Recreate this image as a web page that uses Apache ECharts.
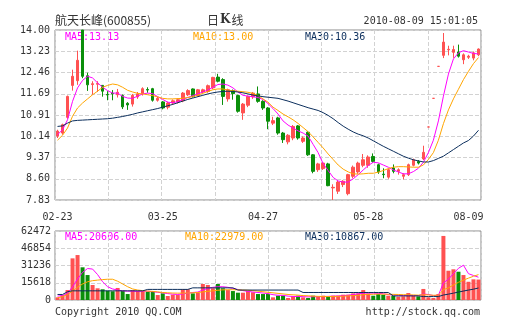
<!DOCTYPE html>
<html><head><meta charset="utf-8">
<script src="https://cdn.jsdelivr.net/npm/echarts@6/dist/echarts.min.js"></script>
<style>html,body{margin:0;padding:0;background:#fff}#c{width:505px;height:330px}</style>
</head><body><div id="c"></div>
<script>
const stockName = '航天长峰(600855)';
const timestamp = '2010-08-09 15:01:05';
const copyrightText = 'Copyright 2010 QQ.COM';
const siteText = 'http://stock.qq.com';
const xTickLabels = ['02-23', '03-25', '04-27', '05-28', '08-09'];
const xTickIndex = [0, 21, 41, 62, 82];
const priceTickLabels = ['7.83', '8.60', '9.37', '10.14', '10.91', '11.69', '12.46', '13.23', '14.00'];
const volTickLabels = ['0', '15618', '31236', '46854', '62472'];

const opens = [10.15,10.26,10.83,11.99,12.16,14.00,12.34,12.02,12.03,11.99,11.66,11.70,11.65,11.62,11.34,11.31,11.57,11.69,11.84,11.87,11.45,11.39,11.20,11.35,11.39,11.43,11.65,11.86,11.62,11.75,11.77,11.90,12.29,12.20,11.50,11.80,11.62,10.99,11.27,11.57,11.68,11.41,11.17,10.62,10.81,10.26,9.94,10.08,10.52,9.96,10.29,9.47,8.93,8.97,9.14,8.27,8.15,8.39,8.06,8.69,8.85,9.09,9.09,9.41,9.11,8.77,8.66,8.99,8.87,8.69,8.75,9.09,9.23,9.32,10.48,11.52,12.68,13.08,13.28,13.19,13.20,12.92,13.01,12.98,13.10];
const closes = [10.33,10.56,11.59,12.32,12.90,12.32,12.01,12.05,12.06,11.78,11.64,11.68,11.74,11.21,11.28,11.63,11.68,11.87,11.82,11.45,11.52,11.17,11.35,11.43,11.47,11.71,11.80,11.59,11.83,11.83,11.98,12.28,12.14,11.59,11.83,11.69,11.05,11.31,11.59,11.71,11.41,11.17,10.69,10.71,10.26,10.02,10.18,10.50,10.08,10.08,9.47,8.87,9.14,9.17,8.35,8.29,8.48,8.51,8.75,9.02,9.17,9.29,9.39,9.23,8.85,8.75,8.93,8.87,8.93,8.75,9.11,9.29,9.17,9.56,10.48,11.52,12.68,13.56,13.30,13.29,13.05,13.10,13.05,13.17,13.31];
const lows = [10.08,10.20,10.78,11.80,12.01,12.25,11.79,11.65,11.75,11.58,11.45,11.45,11.55,11.13,11.10,11.22,11.50,11.62,11.72,11.40,11.40,11.12,11.12,11.28,11.33,11.38,11.60,11.55,11.58,11.70,11.72,11.85,12.10,11.28,11.40,11.47,11.00,10.74,11.20,11.50,11.36,11.10,10.40,10.55,10.20,9.90,9.85,10.00,10.02,9.90,9.43,8.80,8.85,8.92,8.33,7.83,8.05,8.30,8.00,8.62,8.78,9.02,9.00,9.18,8.78,8.62,8.60,8.80,8.75,8.58,8.70,9.05,9.12,9.28,10.48,11.52,12.68,12.98,13.08,12.99,13.00,12.76,12.95,12.90,13.05];
const highs = [10.38,10.60,11.62,12.56,13.25,14.00,12.45,12.14,12.14,12.00,11.78,11.82,11.86,11.66,11.38,11.68,11.75,11.92,11.92,11.90,11.58,11.42,11.40,11.48,11.52,11.75,11.85,11.88,11.86,11.87,12.02,12.30,12.41,12.25,11.87,11.84,11.65,11.35,11.62,11.75,11.95,11.45,11.20,10.85,10.85,10.30,10.22,10.55,10.55,10.14,10.33,9.50,9.18,9.20,9.18,8.40,8.52,8.55,8.78,9.08,9.22,9.50,9.45,9.52,9.15,8.98,8.97,9.12,8.98,8.80,9.15,9.33,9.28,9.80,10.48,11.52,12.68,13.89,13.43,13.43,13.47,13.15,13.10,13.22,13.33];

const ma5 = [10.20,10.38,10.74,11.41,11.90,12.17,12.32,12.26,12.08,11.92,11.80,11.71,11.71,11.59,11.53,11.52,11.60,11.68,11.71,11.69,11.58,11.48,11.38,11.36,11.40,11.48,11.55,11.62,11.68,11.75,11.82,11.92,12.02,12.04,12.00,11.90,11.75,11.63,11.60,11.58,11.55,11.48,11.33,11.15,10.95,10.70,10.55,10.44,10.34,10.26,10.15,9.85,9.55,9.15,8.90,8.65,8.52,8.48,8.48,8.60,8.75,8.92,9.08,9.20,9.18,9.10,9.02,8.92,8.85,8.78,8.78,8.86,8.98,9.20,9.55,10.00,10.70,11.60,12.40,12.95,13.17,13.25,13.20,13.15,13.13];
const ma10 = [10.00,10.18,10.44,10.87,11.17,11.35,11.50,11.65,11.78,11.92,11.99,12.04,12.01,11.92,11.81,11.75,11.70,11.68,11.65,11.62,11.57,11.52,11.50,11.50,11.51,11.52,11.55,11.58,11.64,11.70,11.77,11.83,11.86,11.86,11.82,11.79,11.78,11.76,11.74,11.70,11.62,11.50,11.38,11.20,11.08,10.95,10.85,10.74,10.61,10.46,10.31,10.12,9.92,9.72,9.50,9.30,9.10,8.95,8.85,8.78,8.77,8.78,8.80,8.80,8.84,8.90,8.97,9.02,9.04,9.04,9.03,9.02,9.02,9.10,9.30,9.55,10.00,10.60,11.10,11.50,11.85,12.20,12.50,12.78,13.00];
const ma30 = [10.50,10.52,10.62,10.70,10.72,10.73,10.74,10.75,10.76,10.77,10.78,10.80,10.83,10.86,10.90,10.94,10.99,11.03,11.07,11.11,11.15,11.20,11.25,11.30,11.36,11.42,11.48,11.53,11.58,11.63,11.68,11.72,11.75,11.77,11.78,11.77,11.75,11.72,11.68,11.64,11.61,11.58,11.56,11.54,11.52,11.47,11.42,11.36,11.30,11.24,11.18,11.13,11.08,11.00,10.90,10.78,10.64,10.51,10.40,10.30,10.22,10.16,10.08,9.98,9.88,9.78,9.69,9.60,9.51,9.42,9.35,9.29,9.25,9.21,9.21,9.26,9.34,9.42,9.54,9.66,9.78,9.90,9.99,10.15,10.36];

const volumes = [2400,4500,9000,37700,40700,29600,22600,13600,10600,9700,8400,7900,10900,8400,5400,9000,8400,8400,7500,8100,4500,6000,3600,4800,4500,9700,9700,6000,6600,14500,13600,10600,14500,10600,9000,8100,6600,6600,8100,7000,5400,5400,5400,2400,3900,3900,1800,3300,3900,2400,1800,3900,3000,3900,3000,3900,3900,4800,4800,6000,6000,9000,6000,3900,5400,4800,3900,3900,3000,3300,6300,3900,3300,10000,2400,1800,5400,58000,26500,27800,25600,22600,16500,18700,18500];
const vma5 = [3500,4000,6000,12000,19000,25000,28500,28000,23000,16500,12000,10000,9000,8300,8000,8000,7800,8000,8000,7500,7000,6500,5800,5300,5000,5500,6200,6800,7200,9000,10500,11500,12000,12000,11500,10500,9500,8500,7800,7200,6800,6300,5800,4800,4300,4200,3500,3200,3200,3000,2800,3000,3000,3200,3300,3500,3600,4000,4300,5000,5500,6200,6400,6200,6000,5700,4900,4600,4300,4000,4200,4100,4000,5400,5000,4000,4300,15500,18800,23900,28700,31500,23800,22200,20606];
const vma10 = [2000,3000,5000,8000,11500,14500,16500,17500,18000,18500,18800,18800,17000,14500,12000,10000,9000,8500,8000,7800,7300,6800,6500,6300,6200,6200,6300,6500,6800,7300,7800,8300,8800,9200,9300,9300,9200,9000,8800,8500,8000,7500,7000,6500,6000,5500,5000,4700,4400,4000,3800,3500,3300,3200,3100,3200,3300,3500,3700,4000,4300,4800,5000,5200,5300,5300,5200,5100,5000,4800,4700,4600,4400,4800,4600,4300,4300,9300,11000,13500,16000,18000,19800,21500,22979];
const vma30 = [5000,5000,7500,8300,8300,8300,8300,8300,8300,8300,8300,8300,8300,8300,8300,8300,8300,8300,9600,9600,9600,9600,9600,9600,9600,9600,9600,11000,11000,11000,11000,11000,11000,11000,11000,11000,9000,9000,9000,9000,9000,9000,9000,9000,9000,9000,9000,9000,9000,6800,6800,6800,6800,6800,6800,6800,6800,6800,6800,6800,6800,6800,6800,6800,6800,6800,6800,3700,3700,3700,3700,3700,3700,3100,3100,3100,3100,4500,5300,6200,7200,8100,9000,9800,10867];

const UP = '#ff5151', DOWN = '#0a8f0a';
const C5 = '#ff00ff', C10 = '#ffa500', C30 = '#0b2e5c';
const MONO = '"DejaVu Sans Mono", monospace';
const cats = closes.map((_, i) => i);
const last = a => a[a.length - 1];

const chart = echarts.init(document.getElementById('c'), null, {renderer: 'canvas'});
const dashed = {show: true, lineStyle: {color: '#d2d2d2', type: [4, 2], width: 1}};
const lineSeries = (name, data, color, xi, yi) => ({
  name, type: 'line', data, xAxisIndex: xi, yAxisIndex: yi, showSymbol: false, symbol: 'none',
  lineStyle: {color, width: 1}, itemStyle: {color}, z: 5, silent: true
});
const txt = (text, x, y, color, align) => ({
  type: 'text', x, y, silent: true,
  style: {text, fill: color, font: '10px ' + MONO, align: align || 'left', verticalAlign: 'middle'}
});

chart.setOption({
  animation: false,
  grid: [
    {left: 55, top: 30, width: 426, height: 170, show: true, borderColor: '#8a8a8a', borderWidth: 1, backgroundColor: 'transparent'},
    {left: 55, top: 231, width: 426, height: 69, show: true, borderColor: '#8a8a8a', borderWidth: 1, backgroundColor: 'transparent'}
  ],
  xAxis: [
    {type: 'category', gridIndex: 0, data: cats, boundaryGap: true,
     axisLine: {show: false}, axisTick: {show: false}, splitLine: {show: false},
     axisLabel: {show: true, margin: 12, color: '#333', fontFamily: MONO, fontSize: 10,
       interval: (idx) => xTickIndex.indexOf(idx) >= 0,
       formatter: (v, idx) => { const j = xTickIndex.indexOf(Number(v)); return j >= 0 ? xTickLabels[j] : ''; }}},
    {type: 'category', gridIndex: 1, data: cats, boundaryGap: true,
     axisLine: {show: false}, axisTick: {show: false}, axisLabel: {show: false}, splitLine: {show: false}},
    {type: 'value', gridIndex: 0, min: 0, max: 8, interval: 1,
     axisLine: {show: false}, axisTick: {show: false}, axisLabel: {show: false}, splitLine: dashed},
    {type: 'value', gridIndex: 1, min: 0, max: 8, interval: 1,
     axisLine: {show: false}, axisTick: {show: false}, axisLabel: {show: false}, splitLine: dashed}
  ],
  yAxis: [
    {type: 'value', gridIndex: 0, min: 7.83, max: 14.00, interval: 0.77125, scale: true,
     axisLine: {show: false}, axisTick: {show: false}, splitLine: dashed,
     axisLabel: {margin: 5, color: '#333', fontFamily: MONO, fontSize: 10,
       formatter: v => priceTickLabels[Math.round((v - 7.83) / 0.77125)] || ''}},
    {type: 'value', gridIndex: 1, min: 0, max: 62472, interval: 15618,
     axisLine: {show: false}, axisTick: {show: false}, splitLine: dashed,
     axisLabel: {margin: 4, color: '#333', fontFamily: MONO, fontSize: 10,
       formatter: v => volTickLabels[Math.round(v / 15618)] || ''}}
  ],
  series: [
    {type: 'candlestick', xAxisIndex: 0, yAxisIndex: 0, barWidth: 3,
     data: opens.map((o, i) => [o, closes[i], lows[i], highs[i]]),
     itemStyle: {color: UP, color0: DOWN, borderColor: UP, borderColor0: DOWN, borderWidth: 1}, z: 3},
    lineSeries('MA5', ma5, C5, 0, 0),
    lineSeries('MA10', ma10, C10, 0, 0),
    lineSeries('MA30', ma30, C30, 0, 0),
    {type: 'bar', xAxisIndex: 1, yAxisIndex: 1, barWidth: 4, z: 3,
     data: volumes.map((v, i) => ({value: v, itemStyle: {color: closes[i] >= opens[i] ? UP : DOWN}}))},
    lineSeries('VMA5', vma5, C5, 1, 1),
    lineSeries('VMA10', vma10, C10, 1, 1),
    lineSeries('VMA30', vma30, C30, 1, 1)
  ],
  graphic: [
    {type: 'text', x: 55, y: 20, silent: true,
     style: {text: stockName, fill: '#333', font: '12px "Noto Sans CJK SC"', verticalAlign: 'middle'}},
    {type: 'text', x: 207, y: 20, silent: true,
     style: {text: '{a|日}{b|K}{a|线}', verticalAlign: 'middle',
       rich: {a: {fontFamily: 'Noto Sans CJK SC', fontSize: 12, fill: '#333', color: '#333'},
              b: {fontFamily: 'DejaVu Serif', fontSize: 12, fontWeight: 'bold', fill: '#333', color: '#333', padding: [0, 1]}}}},
    txt(timestamp, 478, 21, '#333', 'right'),
    txt('MA5:' + last(ma5).toFixed(2), 65, 37, C5),
    txt('MA10:' + last(ma10).toFixed(2), 193, 37, C10),
    txt('MA30:' + last(ma30).toFixed(2), 305, 37, C30),
    txt('MA5:' + last(vma5).toFixed(2), 65, 237, C5),
    txt('MA10:' + last(vma10).toFixed(2), 185, 237, C10),
    txt('MA30:' + last(vma30).toFixed(2), 305, 237, C30),
    txt(copyrightText, 55, 312, '#333'),
    txt(siteText, 480, 312, '#333', 'right')
  ]
});
</script></body></html>
